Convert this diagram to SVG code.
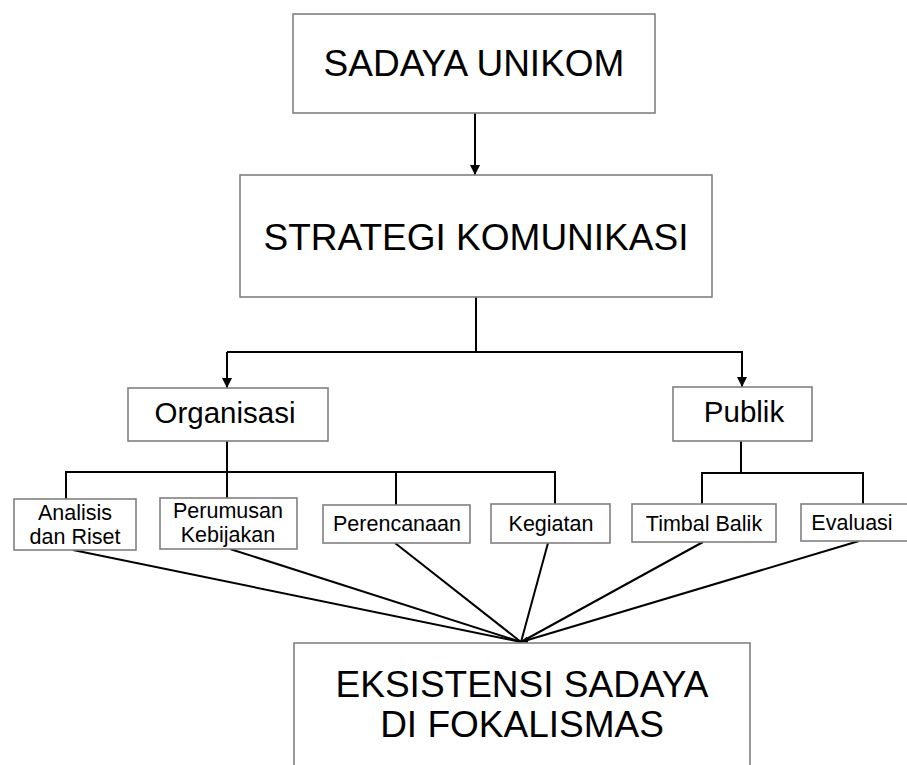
<svg xmlns="http://www.w3.org/2000/svg" width="907" height="765" viewBox="0 0 907 765">
<defs>
<style>
.box{fill:#fff;stroke:#808080;stroke-width:1.6}
.t{font-family:"Liberation Sans",Arial,sans-serif;fill:#000;text-anchor:middle}
.big{font-size:37px}
.mid{font-size:29.5px}
.sm{font-size:21.5px}
.c{fill:none;stroke:#000;stroke-width:2}
</style>
<marker id="ah" viewBox="0 0 10 10" refX="10" refY="5" markerWidth="10" markerHeight="10" markerUnits="userSpaceOnUse" orient="auto">
<path d="M0,0 L10,5 L0,10 z" fill="#000"/>
</marker>
<marker id="ahs" viewBox="0 0 10 10" refX="10" refY="5" markerWidth="7" markerHeight="7" markerUnits="userSpaceOnUse" orient="auto">
<path d="M0,0 L10,5 L0,10 z" fill="#000"/>
</marker>
</defs>
<rect width="907" height="765" fill="#fff"/>
<g id="connectors">
<line class="c" x1="475" y1="113" x2="475" y2="175" marker-end="url(#ah)"/>
<polyline class="c" points="476,297 476,352"/>
<polyline class="c" points="227,352 742,352 742,387" marker-end="url(#ah)"/>
<line class="c" x1="227" y1="352" x2="227" y2="388" marker-end="url(#ah)"/>
<polyline class="c" points="227,441 227,472"/>
<polyline class="c" points="66,499 66,472 555,472 555,504"/>
<line class="c" x1="227" y1="472" x2="227" y2="498"/>
<line class="c" x1="396" y1="472" x2="396" y2="505"/>
<polyline class="c" points="741,441 741,473"/>
<polyline class="c" points="702,504 702,473 863,473 863,504"/>
<line class="c" x1="73" y1="550" x2="521" y2="642"/>
<line class="c" x1="230" y1="549" x2="521" y2="642"/>
<line class="c" x1="395" y1="543" x2="521" y2="642"/>
<line class="c" x1="548" y1="543" x2="521" y2="642"/>
<line class="c" x1="703" y1="542" x2="521" y2="642"/>
<line class="c" x1="859" y1="541" x2="521" y2="642" marker-end="url(#ahs)"/>
</g>
<g id="sadaya">
<rect class="box" x="293" y="14" width="362" height="99"/>
<text class="t big" x="474" y="76">SADAYA UNIKOM</text>
</g>
<g id="strategi">
<rect class="box" x="240" y="175" width="472" height="122"/>
<text class="t big" x="476" y="250">STRATEGI KOMUNIKASI</text>
</g>
<g id="organisasi">
<rect class="box" x="128" y="388" width="200" height="53"/>
<text class="t mid" x="225" y="423">Organisasi</text>
</g>
<g id="publik">
<rect class="box" x="673" y="387" width="139" height="54"/>
<text class="t mid" x="744" y="422">Publik</text>
</g>
<g id="analisis">
<rect class="box" x="14" y="499" width="122" height="51"/>
<text class="t sm" x="75" y="520">Analisis</text>
<text class="t sm" x="75" y="544">dan Riset</text>
</g>
<g id="perumusan">
<rect class="box" x="160" y="498" width="137" height="51"/>
<text class="t sm" x="228" y="518">Perumusan</text>
<text class="t sm" x="228" y="542">Kebijakan</text>
</g>
<g id="perencanaan">
<rect class="box" x="323" y="505" width="147" height="38"/>
<text class="t sm" x="397" y="531">Perencanaan</text>
</g>
<g id="kegiatan">
<rect class="box" x="491" y="504" width="119" height="39"/>
<text class="t sm" x="551" y="531">Kegiatan</text>
</g>
<g id="timbal">
<rect class="box" x="632" y="504" width="144" height="38"/>
<text class="t sm" x="704" y="531">Timbal Balik</text>
</g>
<g id="evaluasi">
<rect class="box" x="801" y="504" width="110" height="37"/>
<text class="t sm" x="852" y="530">Evaluasi</text>
</g>
<g id="eksistensi">
<rect class="box" x="294" y="643" width="456" height="140"/>
<text class="t big" x="522" y="697">EKSISTENSI SADAYA</text>
<text class="t big" x="522" y="737">DI FOKALISMAS</text>
</g>
</svg>
